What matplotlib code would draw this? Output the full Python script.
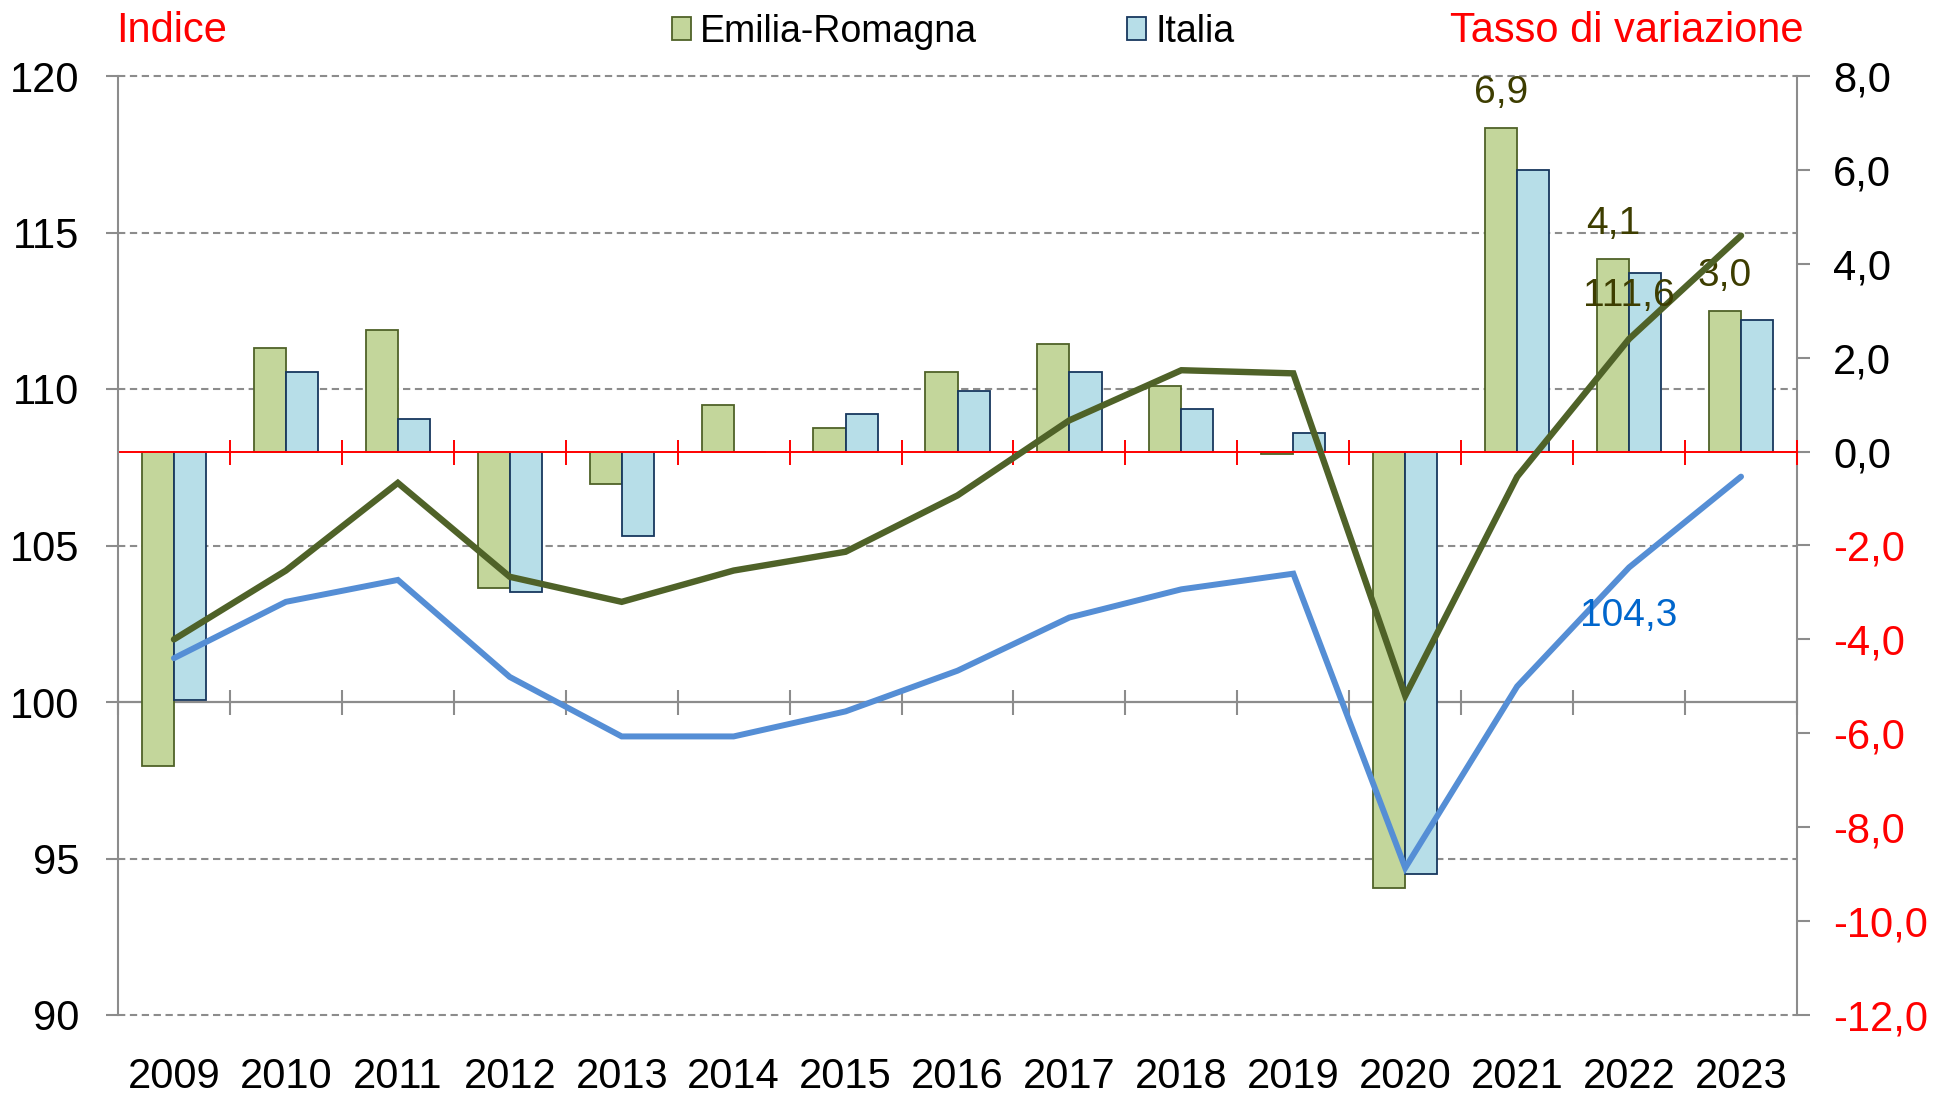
import matplotlib
matplotlib.use("Agg")
import matplotlib.pyplot as plt
from matplotlib.patches import Patch
from matplotlib.transforms import blended_transform_factory
import numpy as np

plt.rcParams['font.family'] = ['Liberation Sans', 'DejaVu Sans']

# ---------------- data ----------------
years = ["2009", "2010", "2011", "2012", "2013", "2014", "2015", "2016",
         "2017", "2018", "2019", "2020", "2021", "2022", "2023"]
# tasso di variazione (%)  -> bars, right axis
rate_er = [-6.7, 2.2, 2.6, -2.9, -0.7, 1.0, 0.5, 1.7, 2.3, 1.4, -0.05, -9.3, 6.9, 4.1, 3.0]
rate_it = [-5.3, 1.7, 0.7, -3.0, -1.8, 0.0, 0.8, 1.3, 1.7, 0.9, 0.4, -9.0, 6.0, 3.8, 2.8]
# indice -> lines, left axis
idx_er = [102.0, 104.2, 107.0, 104.0, 103.2, 104.2, 104.8, 106.6, 109.0, 110.6,
          110.5, 100.2, 107.2, 111.6, 114.9]
idx_it = [101.4, 103.2, 103.9, 100.8, 98.9, 98.9, 99.7, 101.0, 102.7, 103.6,
          104.1, 94.7, 100.5, 104.3, 107.2]
rate_ticks = [-12, -10, -8, -6, -4, -2, 0, 2, 4, 6, 8]
idx_ticks = [90, 95, 100, 105, 110, 115, 120]
labelled_bars = {"2021": 6.9, "2022": 4.1, "2023": 3.0}

# ---------------- style ----------------
C_ER_FILL = "#C3D69B"
C_ER_EDGE = "#4F6228"
C_IT_FILL = "#B7DEE8"
C_IT_EDGE = "#17375E"
C_ER_LINE = "#4F6228"
C_IT_LINE = "#558ED5"
GRAY = "#8C8C8C"
RED = "#FF0000"

W, H = 1953, 1097
fig = plt.figure(figsize=(W / 100, H / 100), dpi=100)
L, R, T, B = 118, 1797, 76, 1015
ax = fig.add_axes([L / W, 1 - B / H, (R - L) / W, (B - T) / H])
ax2 = ax.twinx()
ax.yaxis.tick_right()
ax2.yaxis.tick_left()

x = np.arange(len(years))
bw = 0.287

ax.set_xlim(-0.5, len(years) - 0.5)
ax.set_ylim(rate_ticks[0], rate_ticks[-1])
ax2.set_ylim(idx_ticks[0], idx_ticks[-1])

# gridlines from index axis, drawn behind the bars
gtr = blended_transform_factory(ax.transAxes, ax2.transData)
for v in idx_ticks:
    if v == 100:
        continue
    ax.plot([0, 1], [v, v], transform=gtr, color=GRAY, lw=1.5,
            ls=(0, (3.5, 2.2)), zorder=0.5, clip_on=False)
# category axis at index 100 with crossing ticks
bounds = np.arange(len(years) + 1) - 0.5
ax.plot([bounds[0], bounds[-1]], [100, 100], transform=ax2.transData,
        color=GRAY, lw=1.6, zorder=0.6)
ax.plot(bounds, [100] * len(bounds), transform=ax2.transData, ls='none',
        marker='|', markersize=18, mew=1.5, color=GRAY, zorder=0.6, clip_on=False)

# bars
ax.bar(x - bw / 2, rate_er, width=bw, color=C_ER_FILL, edgecolor=C_ER_EDGE,
       linewidth=1.3, zorder=2)
ax.bar(x + bw / 2, rate_it, width=bw, color=C_IT_FILL, edgecolor=C_IT_EDGE,
       linewidth=1.3, zorder=2)

# red zero line with crossing ticks
ax.axhline(0, color=RED, lw=1.4, zorder=3)
ax.plot(bounds, [0] * len(bounds), ls='none', marker='|', markersize=18,
        mew=1.4, color=RED, zorder=3, clip_on=False)

# bar labels
for yr, v in labelled_bars.items():
    i = years.index(yr)
    ax.annotate(f"{v:.1f}".replace('.', ','), (x[i] - bw / 2, rate_er[i]),
                xytext=(0, 25), textcoords='offset points', ha='center',
                va='center', fontsize=28, color="#3D3D00", zorder=5)

# lines
ax2.plot(x, idx_er, color=C_ER_LINE, lw=4.6, solid_capstyle='round',
         solid_joinstyle='miter', zorder=4)
ax2.plot(x, idx_it, color=C_IT_LINE, lw=4.3, solid_capstyle='round',
         solid_joinstyle='miter', zorder=4)
i22 = years.index("2022")
ax2.annotate(f"{idx_er[i22]:.1f}".replace('.', ','), (x[i22], idx_er[i22]),
             xytext=(0, 31), textcoords='offset points', ha='center', va='center',
             fontsize=28, color="#3D3D00", zorder=6)
ax2.annotate(f"{idx_it[i22]:.1f}".replace('.', ','), (x[i22], idx_it[i22]),
             xytext=(0, -35), textcoords='offset points', ha='center', va='center',
             fontsize=28, color="#0066CC", zorder=6)

# axes styling
for a in (ax, ax2):
    for s in a.spines.values():
        s.set_visible(False)
ax.spines['right'].set_visible(True)
ax.spines['right'].set_color(GRAY)
ax.spines['right'].set_linewidth(1.5)
ax2.spines['left'].set_visible(True)
ax2.spines['left'].set_color(GRAY)
ax2.spines['left'].set_linewidth(1.5)

ax.set_xticks(x)
ax.set_xticklabels(years, fontsize=30)
ax.tick_params(axis='x', length=0, pad=30)

ax.set_yticks(rate_ticks)
ax.set_yticklabels([f"{v:.1f}".replace('.', ',') for v in rate_ticks], fontsize=30)
ax.tick_params(axis='y', length=9, width=1.5, color=GRAY, pad=17)
for v, lab in zip(rate_ticks, ax.get_yticklabels()):
    lab.set_color(RED if v < 0 else "black")

ax2.set_yticks(idx_ticks)
ax2.set_yticklabels([str(v) for v in idx_ticks], fontsize=30)
ax2.tick_params(axis='y', length=9, width=1.5, color=GRAY, pad=19)

# titles
fig.text(116 / W, 1 - 31 / H, "Indice", color=RED, fontsize=30, ha='left', va='center')
fig.text(1803 / W, 1 - 31 / H, "Tasso di variazione", color=RED, fontsize=30,
         ha='right', va='center')

# legend
handles = [Patch(facecolor=C_ER_FILL, edgecolor=C_ER_EDGE, linewidth=1.3),
           Patch(facecolor=C_IT_FILL, edgecolor=C_IT_EDGE, linewidth=1.3)]
fig.legend(handles, ["Emilia-Romagna", "Italia"], loc='center',
           bbox_to_anchor=(953 / W, 1 - 32 / H), ncol=2, frameon=False,
           fontsize=27, handlelength=0.5, handleheight=0.55, handletextpad=0.25,
           columnspacing=4.0, borderpad=0, borderaxespad=0)

fig.savefig("out.png", dpi=100)
